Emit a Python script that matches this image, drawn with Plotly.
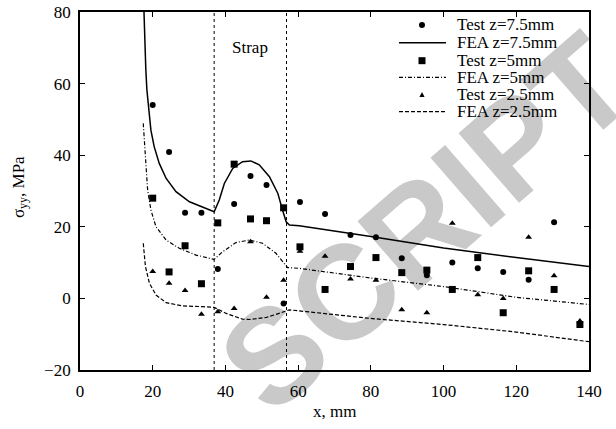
import plotly.graph_objects as go

# Measurement positions along the specimen (mm)
x_test = [20.0, 24.5, 28.9, 33.4, 37.9, 42.4, 46.9, 51.3, 56.0, 60.5, 67.4,
          74.4, 81.4, 88.5, 95.4, 102.4, 109.4, 116.4, 123.4, 130.4, 137.5]

# Measured stresses (MPa)
test_z75 = [54.0, 40.9, 23.9, 23.9, 8.2, 26.4, 34.2, 31.7, -1.4, 26.9, 23.6,
            17.7, 17.1, 11.2, 6.5, 10.0, 8.4, 7.4, 5.2, 21.3, -7.0]
test_z5 = [28.0, 7.4, 14.7, 4.1, 21.1, 37.5, 22.2, 21.7, 25.3, 14.4, 2.5,
           8.9, 11.4, 7.2, 7.9, 2.5, 11.4, -4.0, 7.7, 2.5, -7.3]
test_z25 = [7.5, 4.2, 2.2, -4.4, -3.7, -2.8, 15.8, 0.3, 5.1, 13.2, 11.8,
            5.4, 5.1, -3.2, -4.0, 21.0, 1.0, 0.0, 17.1, 6.3, -6.3]

# FEA predictions
fea_z75_x = [17.6, 17.8, 18.1, 18.4, 18.9, 19.5, 20.4, 21.8, 23.7, 26.4, 30.1,
             33.7, 36.9, 38.3, 39.7, 42.0, 44.7, 47.0, 49.3, 52.1, 54.4, 55.7,
             56.7, 57.6, 60.3, 80.0, 100.0, 120.0, 140.0]
fea_z75_y = [80.0, 72.0, 64.0, 58.2, 52.6, 47.0, 42.4, 37.7, 33.5, 29.8, 27.0,
             25.4, 24.2, 27.5, 32.1, 36.3, 38.2, 38.4, 37.3, 34.0, 29.4, 24.7,
             21.4, 20.5, 20.3, 17.3, 14.1, 11.4, 8.9]

fea_z5_x = [17.4, 18.0, 18.6, 19.5, 20.9, 23.7, 27.3, 31.9, 36.9, 39.2, 42.9,
            46.6, 50.2, 53.9, 55.7, 57.1, 60.3, 80.0, 100.0, 120.0, 140.0]
fea_z5_y = [48.9, 39.6, 30.3, 24.7, 20.0, 16.3, 14.0, 12.1, 10.9, 13.0, 15.6,
            16.3, 15.4, 12.6, 10.3, 8.6, 8.4, 5.7, 3.3, 0.3, -1.7]

fea_z25_x = [17.4, 18.0, 19.1, 20.9, 23.7, 28.2, 33.7, 36.9, 40.2, 44.7, 46.8,
             49.0, 51.3, 53.5, 56.2, 57.6, 62.3, 80.0, 100.0, 120.0, 140.0]
fea_z25_y = [15.4, 8.9, 4.2, 0.95, -1.2, -2.1, -2.3, -2.5, -4.2, -5.8, -5.9,
             -5.7, -5.3, -4.6, -3.7, -3.2, -3.7, -5.6, -7.3, -9.4, -12.1]

strap_edges = [36.9, 56.8]
x_ticks = [0, 20, 40, 60, 80, 100, 120, 140]
y_ticks = [-20, 0, 20, 40, 60, 80]
x_range = [0, 140]
y_range = [-20, 80]

SERIF = "Liberation Serif, Tinos, Times New Roman, Times, DejaVu Serif, serif"
SANS = "Liberation Sans, Arimo, Arial, Helvetica, sans-serif"
DOTDASH = "4px,2px,1px,2px"
DASHED = "4px,2px"

fig = go.Figure()

fig.add_trace(go.Scatter(x=x_test, y=test_z75, mode="markers", name="Test z=7.5mm",
                         marker=dict(symbol="circle", size=6, color="black")))
fig.add_trace(go.Scatter(x=fea_z75_x, y=fea_z75_y, mode="lines", name="FEA z=7.5mm",
                         line=dict(color="black", width=1.5)))
fig.add_trace(go.Scatter(x=x_test, y=test_z5, mode="markers", name="Test z=5mm",
                         marker=dict(symbol="square", size=7, color="black")))
fig.add_trace(go.Scatter(x=fea_z5_x, y=fea_z5_y, mode="lines", name="FEA z=5mm",
                         line=dict(color="black", width=1.2, dash=DOTDASH)))
fig.add_trace(go.Scatter(x=x_test, y=test_z25, mode="markers", name="Test z=2.5mm",
                         marker=dict(symbol="triangle-up", size=6, color="black")))
fig.add_trace(go.Scatter(x=fea_z25_x, y=fea_z25_y, mode="lines", name="FEA z=2.5mm",
                         line=dict(color="black", width=1.2, dash=DASHED)))

shapes = []
# Strap boundaries
for xe in strap_edges:
    shapes.append(dict(type="line", xref="x", yref="y", x0=xe, x1=xe,
                       y0=y_range[0], y1=y_range[1],
                       line=dict(color="black", width=1, dash="3px,3px")))

# Background watermark text
shapes.append(dict(type="line", xref="paper", yref="paper", layer="below",
                   x0=0.7483, y0=0.2737, x1=0.7683, y1=0.2737,
                   line=dict(width=0, color="rgba(0,0,0,0)"),
                   label=dict(text="<b>SCRIPT</b>", textposition="middle",
                              textangle=-41,
                              font=dict(family=SANS, size=134, color="#c9c9c9"))))

# Hand-built legend block in the upper right
legend_rows = [0.9637, 0.9142, 0.8640, 0.8176, 0.7682, 0.7215]
sym_x = 0.6719
line_x0, line_x1 = 0.6267, 0.719
text_x = 0.7367
annotations = []
for tr, yr in zip(fig.data, legend_rows):
    if tr.mode == "markers":
        sym = tr.marker.symbol
        if sym == "circle":
            shapes.append(dict(type="circle", xref="paper", yref="paper",
                               xsizemode="pixel", ysizemode="pixel",
                               xanchor=sym_x, yanchor=yr, x0=-3, x1=3, y0=-3, y1=3,
                               fillcolor="black", line=dict(width=0)))
        elif sym == "square":
            shapes.append(dict(type="rect", xref="paper", yref="paper",
                               xsizemode="pixel", ysizemode="pixel",
                               xanchor=sym_x, yanchor=yr, x0=-3.5, x1=3.5, y0=-3.5, y1=3.5,
                               fillcolor="black", line=dict(width=0)))
        else:
            shapes.append(dict(type="path", xref="paper", yref="paper",
                               xsizemode="pixel", ysizemode="pixel",
                               xanchor=sym_x, yanchor=yr,
                               path="M-2.6,-2 L2.6,-2 L0,3 Z",
                               fillcolor="black", line=dict(width=0)))
    else:
        shapes.append(dict(type="line", xref="paper", yref="paper",
                           x0=line_x0, x1=line_x1, y0=yr, y1=yr,
                           line=dict(color="black", width=tr.line.width,
                                     dash=tr.line.dash)))
    annotations.append(dict(x=text_x, y=yr, xref="paper", yref="paper",
                            text=tr.name, showarrow=False, xanchor="left",
                            yanchor="middle", font=dict(family=SERIF, size=17)))

annotations.append(dict(x=46.8, y=70, xref="x", yref="y", text="Strap",
                        showarrow=False, font=dict(family=SERIF, size=17)))
# Axis titles
annotations.append(dict(x=0.4991, y=-0.1173, xref="paper", yref="paper",
                        text="x, mm", showarrow=False, xanchor="center", yanchor="middle",
                        font=dict(family=SERIF, size=17)))
annotations.append(dict(x=-0.1179, y=0.511, xref="paper", yref="paper",
                        text="σ<sub>yy</sub>, MPa", showarrow=False, textangle=-90,
                        xanchor="center", yanchor="middle",
                        font=dict(family=SERIF, size=17)))

# Boxed axes with inward ticks on all four sides
axis_common = dict(showline=True, linecolor="black", linewidth=1.8, mirror="ticks",
                   ticks="inside", ticklen=5, tickwidth=1, tickcolor="black",
                   showgrid=False, zeroline=False, automargin=False,
                   tickfont=dict(family=SERIF, size=17, color="black"))

fig.update_layout(
    width=616, height=429,
    margin=dict(l=80, r=27, t=12, b=59, autoexpand=False),
    paper_bgcolor="white", plot_bgcolor="rgba(0,0,0,0)",
    showlegend=False,
    font=dict(family=SERIF, size=17, color="black"),
    shapes=shapes, annotations=annotations,
    xaxis=dict(range=x_range, tickvals=x_ticks, ticklabelstandoff=5, **axis_common),
    yaxis=dict(range=y_range, tickvals=y_ticks, ticklabelstandoff=4, **axis_common),
)

fig.write_html("out.html")
